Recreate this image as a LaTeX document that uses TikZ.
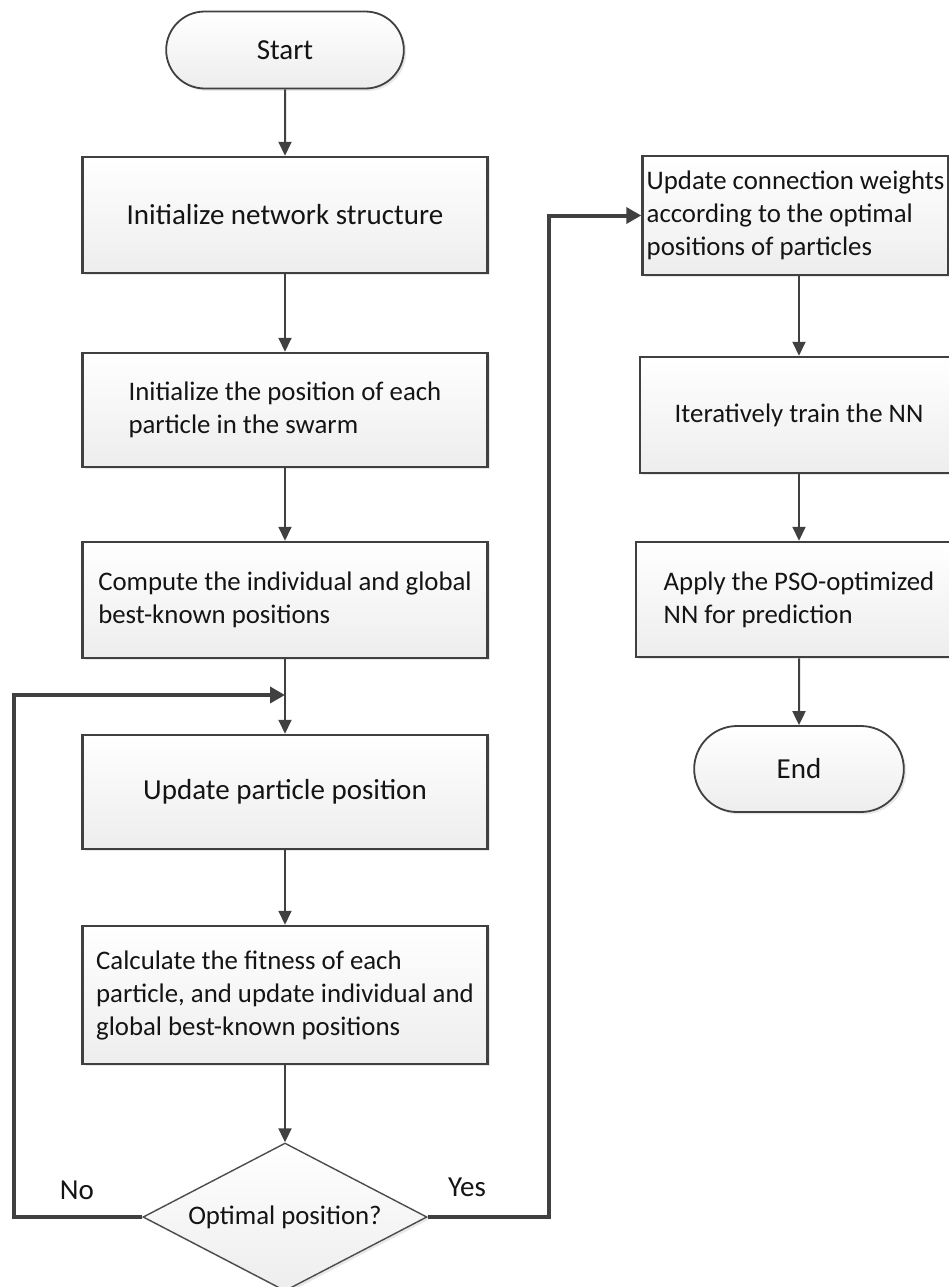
\documentclass[tikz,border=0pt]{standalone}
\usepackage{fontspec}
\setmainfont{Carlito}
\usetikzlibrary{arrows.meta,shapes.geometric,shapes.misc,shadows}

\tikzset{
	every node/.style={font=\fontsize{14.5}{16.5}\selectfont, text=black!92},
	smalltext/.style={font=\fontsize{13.4}{16.5}\selectfont},
	procbox/.style={rectangle, draw=black!75, line width=1.25pt, top color=white, bottom color=black!7,
		drop shadow={shadow xshift=1.2pt, shadow yshift=-1.2pt, opacity=0.18},
		minimum width=202.5pt, inner xsep=0pt, inner ysep=0pt, align=left},
	termbox/.style={rounded rectangle, draw=black!75, line width=0.9pt, top color=white, bottom color=black!7,
		drop shadow={shadow xshift=1.2pt, shadow yshift=-1.2pt, opacity=0.18}},
	decbox/.style={diamond, draw=black!70, line width=0.7pt, top color=white, bottom color=black!7,
		drop shadow={shadow xshift=1.2pt, shadow yshift=-1.2pt, opacity=0.18},
		aspect=1.9, minimum width=142pt, minimum height=74pt, inner sep=0pt},
	flow/.style={draw=black!75, line width=1pt, -{Triangle[length=7pt,width=6.5pt]}},
	loopline/.style={draw=black!75, line width=2pt, -{Triangle[length=7.5pt,width=8pt]}}
}

\begin{document}
\begin{tikzpicture}[x=0.5pt, y=-0.5pt]

	\clip (0,0) rectangle (949,1287);

	% left column
	\node[termbox, minimum width=125.5pt, minimum height=38.5pt] (start) at (285,50) {Start};
	\node[procbox, minimum height=58pt, align=center] (init) at (285,215) {Initialize network structure};
	\node[procbox, smalltext, minimum height=57pt] (pos) at (285,410) {Initialize the position of each\\particle in the swarm};
	\node[procbox, smalltext, minimum height=58pt] (best) at (285,600) {Compute the individual and global\\best-known positions};
	\node[procbox, minimum height=57pt, align=center] (upd) at (285,792) {Update particle position};
	\node[procbox, smalltext, minimum height=69pt] (fit) at (285,995) {Calculate the fitness of each\\particle, and update individual and\\global best-known positions};
	\node[decbox, smalltext] (opt) at (285,1217) {Optimal position?};

	% right column
	\node[procbox, smalltext, minimum width=153pt, minimum height=59.5pt] (weights) at (795.5,215.5) {Update connection weights\\according to the optimal\\positions of particles};
	\node[procbox, smalltext, minimum width=159pt, minimum height=58pt, align=center] (train) at (799,415) {Iteratively train the NN};
	\node[procbox, smalltext, minimum width=163pt, minimum height=57.5pt] (apply) at (799,599.5) {Apply the PSO-optimized\\NN for prediction};
	\node[termbox, minimum width=111.5pt, minimum height=43pt] (end) at (799,769) {End};

	% labels
	\node (nolbl) at (77,1190) {No};
	\node (yeslbl) at (467,1187) {Yes};

	%draw flow
	\coordinate (join) at (285,695);
	\draw[flow] (start) -- (init);
	\draw[flow] (init) -- (pos);
	\draw[flow] (pos) -- (best);
	\draw[flow] (best) -- (upd);
	\draw[flow] (upd) -- (fit);
	\draw[flow] (fit) -- (opt);
	\draw[flow] (weights.south -| train.north) -- (train);
	\draw[flow] (train) -- (apply);
	\draw[flow] (apply) -- (end);

	%draw loops
	\draw[loopline] (opt.west) -- ++(-128,0) |- (join);
	\draw[loopline] (opt.east) -- ++(121,0) |- (weights.west);

\end{tikzpicture}
\end{document}
